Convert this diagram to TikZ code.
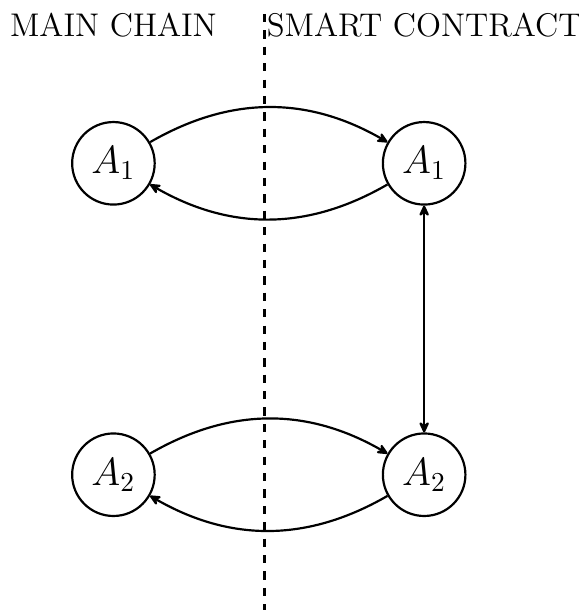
\documentclass[tikz,border=0pt]{standalone}
\usetikzlibrary{arrows.meta}
\begin{document}
\begin{tikzpicture}[x=1pt,y=-1pt,
  tip/.tip={Stealth[length=5.2pt,width=4.8pt,inset=2pt,round]},
  state/.style={circle,draw,thick,minimum size=30.2pt,inner sep=1pt,font=\Large},
  side/.style={font=\large,anchor=base,inner sep=0pt},
  link/.style={thick,-tip},
  dlink/.style={thick,tip-tip},
  divider/.style={thick,dashed}]
\useasboundingbox (0,0) rectangle (211.5,223.2);
\node[state] (L1) at (41.5,59.75) {$A_1$};
\node[state] (R1) at (155.2,59.75) {$A_1$};
\node[state] (L2) at (41.5,173.7) {$A_2$};
\node[state] (R2) at (155.2,173.7) {$A_2$};
\node[side] (mc) at (41.5,13.5) {MAIN CHAIN};
\node[side] (sc) at (155.2,13.5) {SMART CONTRACT};
\coordinate (dtop) at (96.8,5.1);
\coordinate (dbot) at (96.8,224);
\draw[divider] (dtop) -- (dbot);
\draw[link] (L1) to[bend left=30] (R1);
\draw[link] (R1) to[bend left=30] (L1);
\draw[link] (L2) to[bend left=30] (R2);
\draw[link] (R2) to[bend left=30] (L2);
\draw[dlink] (R1) -- (R2);
\end{tikzpicture}
\end{document}
